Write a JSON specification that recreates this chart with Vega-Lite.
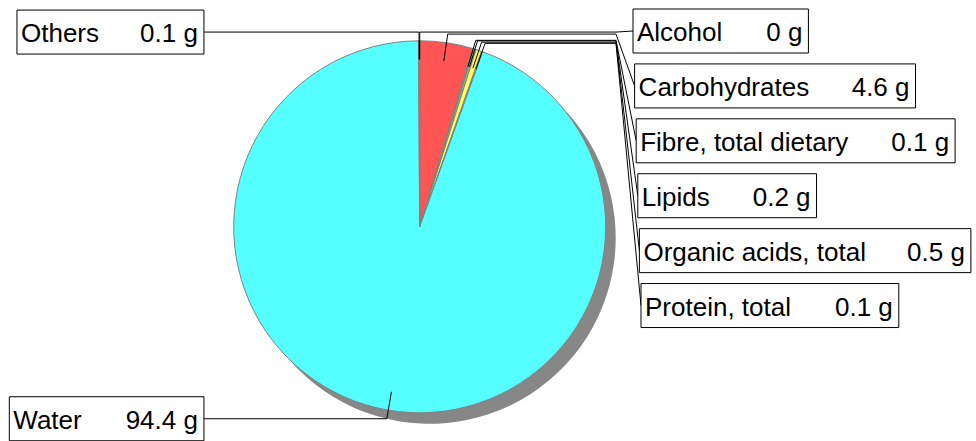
{
  "$schema": "https://vega.github.io/schema/vega-lite/v6.json",
  "width": 976,
  "height": 441,
  "autosize": {"type": "none"},
  "padding": 0,
  "background": "white",
  "config": {"view": {"stroke": null}, "axis": {"disable": true}, "legend": {"disable": true}},
  "data": {"values": [
    {"name": "Alcohol", "value": 0},
    {"name": "Carbohydrates", "value": 4.6},
    {"name": "Fibre, total dietary", "value": 0.1},
    {"name": "Lipids", "value": 0.2},
    {"name": "Organic acids, total", "value": 0.5},
    {"name": "Protein, total", "value": 0.1},
    {"name": "Water", "value": 94.4},
    {"name": "Others", "value": 0.1}
  ]},
  "transform": [
    {"window": [{"op": "row_number", "as": "idx"}]},
    {"stack": "value", "groupby": [], "sort": [{"field": "idx", "order": "ascending"}], "as": ["v0", "v1"]},
    {"joinaggregate": [{"op": "sum", "field": "value", "as": "total"}]},
    {"calculate": "datum.v0/datum.total", "as": "a0"},
    {"calculate": "datum.v1/datum.total", "as": "a1"},
    {"calculate": "PI*(datum.a0+datum.a1)", "as": "m"},
    {"calculate": "datum.m < PI ? 'right' : 'left'", "as": "side"},
    {"window": [{"op": "row_number", "as": "row"}], "groupby": ["side"], "sort": [{"field": "idx", "order": "ascending"}]},
    {"calculate": "0.9*sin(datum.m)", "as": "p1x"},
    {"calculate": "0.9*cos(datum.m)", "as": "p1y"},
    {"calculate": "1.047*sin(datum.m)", "as": "p2x"},
    {"calculate": "1.047*cos(datum.m)", "as": "p2y"},
    {"calculate": "datum.side == 'right' ? 1.0554 : -1.106", "as": "p3x"},
    {"calculate": "datum.side == 'right' ? 1.0527 - 0.2952*(datum.row-1) : datum.p2y", "as": "cy"},
    {"calculate": "datum.side == 'right' ? 1.1468 + 0.0086*(datum.row-1) : -1.16", "as": "p4x"},
    {"calculate": "datum.value + ' g'", "as": "val"},
    {"calculate": "datum.name + datum.val", "as": "s"},
    {"calculate": "0.556*length(datum.s) - 0.334*(length(datum.s)-length(replace(datum.s, regexp('[ijl]','g'), ''))) - 0.278*(length(datum.s)-length(replace(datum.s, regexp('[tfI .,]','g'), ''))) - 0.223*(length(datum.s)-length(replace(datum.s, regexp('r','g'), ''))) - 0.056*(length(datum.s)-length(replace(datum.s, regexp('[cksvxyz]','g'), ''))) + 0.277*(length(datum.s)-length(replace(datum.s, regexp('[mwM]','g'), ''))) + 0.15*(length(datum.s)-length(replace(datum.s, regexp('[ABCDEGHKNOPRSUVXY]','g'), ''))) + 0.055*(length(datum.s)-length(replace(datum.s, regexp('[FTZ]','g'), ''))) + 0.388*(length(datum.s)-length(replace(datum.s, regexp('W','g'), '')))", "as": "em"},
    {"calculate": "(datum.em*26 + 53)/186", "as": "bw"},
    {"calculate": "datum.side == 'right' ? datum.p4x : datum.p4x - datum.bw", "as": "bx1"},
    {"calculate": "datum.side == 'right' ? datum.p4x + datum.bw : datum.p4x", "as": "bx2"},
    {"calculate": "datum.cy + 0.1183", "as": "by1"},
    {"calculate": "datum.cy - 0.1183", "as": "by2"}
  ],
  "layer": [
    {
      "mark": {"type": "arc", "outerRadius": 186, "xOffset": 10, "yOffset": 11, "fill": "#878787", "stroke": null},
      "encoding": {
        "theta": {"field": "a0", "type": "quantitative", "scale": {"domain": [0, 1]}},
        "theta2": {"field": "a1"},
        "x": {"datum": 0, "type": "quantitative", "scale": {"domain": [-2.2565, 2.9909], "nice": false, "zero": false}},
        "y": {"datum": 0, "type": "quantitative", "scale": {"domain": [-1.1516, 1.2194], "nice": false, "zero": false}}
      }
    },
    {
      "mark": {"type": "arc", "outerRadius": 186, "stroke": "#808080", "strokeWidth": 1},
      "encoding": {
        "theta": {"field": "a0", "type": "quantitative", "scale": {"domain": [0, 1]}},
        "theta2": {"field": "a1"},
        "x": {"datum": 0, "type": "quantitative", "scale": {"domain": [-2.2565, 2.9909], "nice": false, "zero": false}},
        "y": {"datum": 0, "type": "quantitative", "scale": {"domain": [-1.1516, 1.2194], "nice": false, "zero": false}},
        "color": {"field": "name", "type": "nominal", "scale": {
          "domain": ["Alcohol", "Carbohydrates", "Fibre, total dietary", "Lipids", "Organic acids, total", "Protein, total", "Water", "Others"],
          "range": ["#5555ff", "#ff5555", "#55ff55", "#aaaaaa", "#ffff55", "#aaaaaa", "#55ffff", "#aaaaaa"]}}
      }
    },
    {
      "mark": {"type": "rule", "color": "black", "strokeWidth": 1},
      "encoding": {
        "x": {"field": "p1x", "type": "quantitative", "scale": {"domain": [-2.2565, 2.9909], "nice": false, "zero": false}},
        "y": {"field": "p1y", "type": "quantitative", "scale": {"domain": [-1.1516, 1.2194], "nice": false, "zero": false}},
        "x2": {"field": "p2x"},
        "y2": {"field": "p2y"}
      }
    },
    {
      "mark": {"type": "rule", "color": "black", "strokeWidth": 1},
      "encoding": {
        "x": {"field": "p2x", "type": "quantitative", "scale": {"domain": [-2.2565, 2.9909], "nice": false, "zero": false}},
        "y": {"field": "p2y", "type": "quantitative", "scale": {"domain": [-1.1516, 1.2194], "nice": false, "zero": false}},
        "x2": {"field": "p3x"},
        "y2": {"field": "p2y"}
      }
    },
    {
      "mark": {"type": "rule", "color": "black", "strokeWidth": 1},
      "encoding": {
        "x": {"field": "p3x", "type": "quantitative", "scale": {"domain": [-2.2565, 2.9909], "nice": false, "zero": false}},
        "y": {"field": "p2y", "type": "quantitative", "scale": {"domain": [-1.1516, 1.2194], "nice": false, "zero": false}},
        "x2": {"field": "p4x"},
        "y2": {"field": "cy"}
      }
    },
    {
      "mark": {"type": "rect", "fill": "#cccccc", "xOffset": 6, "yOffset": 6},
      "encoding": {
        "x": {"field": "bx1", "type": "quantitative", "scale": {"domain": [-2.2565, 2.9909], "nice": false, "zero": false}},
        "y": {"field": "by1", "type": "quantitative", "scale": {"domain": [-1.1516, 1.2194], "nice": false, "zero": false}},
        "x2": {"field": "bx2"},
        "y2": {"field": "by2"}
      }
    },
    {
      "mark": {"type": "rect", "fill": "white", "stroke": "black", "strokeWidth": 1},
      "encoding": {
        "x": {"field": "bx1", "type": "quantitative", "scale": {"domain": [-2.2565, 2.9909], "nice": false, "zero": false}},
        "y": {"field": "by1", "type": "quantitative", "scale": {"domain": [-1.1516, 1.2194], "nice": false, "zero": false}},
        "x2": {"field": "bx2"},
        "y2": {"field": "by2"}
      }
    },
    {
      "mark": {"type": "text", "align": "left", "baseline": "alphabetic", "dx": 4, "dy": 10, "font": "Liberation Sans", "fontSize": 26, "color": "black"},
      "encoding": {
        "x": {"field": "bx1", "type": "quantitative", "scale": {"domain": [-2.2565, 2.9909], "nice": false, "zero": false}},
        "y": {"field": "cy", "type": "quantitative", "scale": {"domain": [-1.1516, 1.2194], "nice": false, "zero": false}},
        "text": {"field": "name"}
      }
    },
    {
      "mark": {"type": "text", "align": "right", "baseline": "alphabetic", "dx": -6, "dy": 10, "font": "Liberation Sans", "fontSize": 26, "color": "black"},
      "encoding": {
        "x": {"field": "bx2", "type": "quantitative", "scale": {"domain": [-2.2565, 2.9909], "nice": false, "zero": false}},
        "y": {"field": "cy", "type": "quantitative", "scale": {"domain": [-1.1516, 1.2194], "nice": false, "zero": false}},
        "text": {"field": "val"}
      }
    }
  ]
}
